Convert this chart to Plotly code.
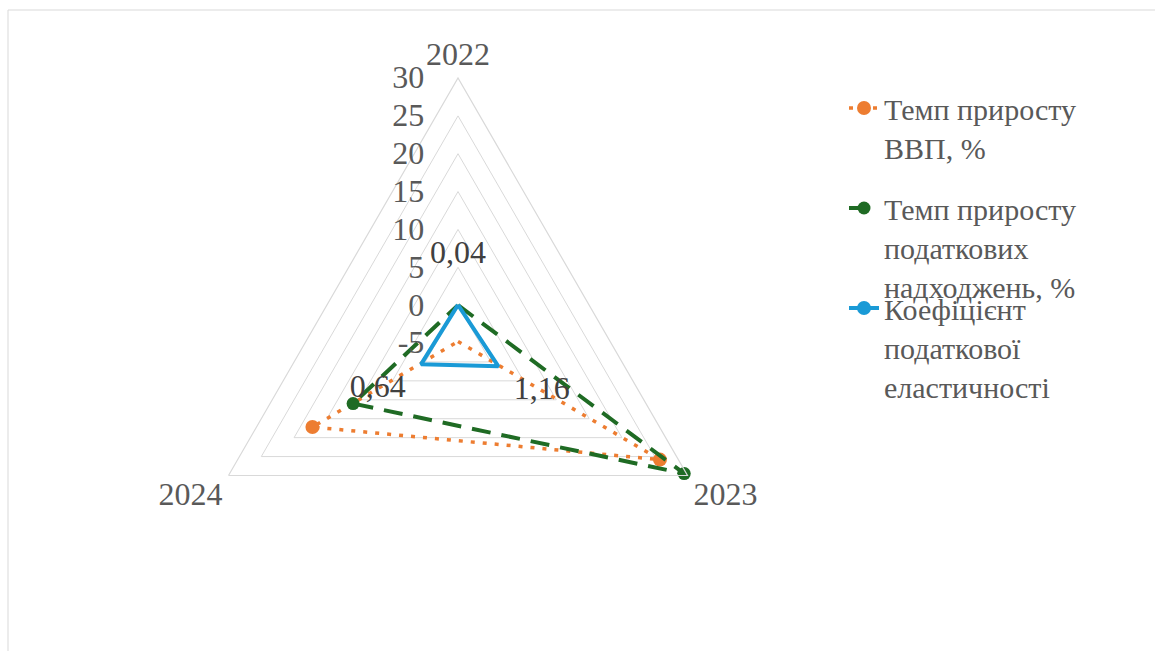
import plotly.graph_objects as go

categories = ["2022", "2023", "2024"]
gdp_growth = [-4.8, 25.8, 17.2]
tax_growth = [0.0, 29.5, 11.0]
elasticity = [0.04, 1.16, 0.64]
elasticity_labels = ["0,04", "1,16", "0,64"]
radial_ticks = [-5, 0, 5, 10, 15, 20, 25, 30]
radial_tick_labels = ["-5", "0", "5", "10", "15", "20", "25", "30"]

names = [
    "Темп приросту<br>ВВП, %",
    "Темп приросту<br>податкових<br>надходжень, %",
    "Коефіцієнт<br>податкової<br>еластичності",
]

W, H = 1155, 651
FONT = "Liberation Serif"
TXT = "#595959"
LABEL_OFFSET = 6.6


def closed(v):
    return list(v) + [v[0]]


theta_c = closed(categories)

fig = go.Figure()
fig.add_trace(go.Scatterpolar(
    r=closed(gdp_growth), theta=theta_c, name=names[0], mode="lines+markers",
    line=dict(color="#ED7D31", width=3.5, dash="4px,8px"),
    marker=dict(size=14, color="#ED7D31"), legend="legend",
))
fig.add_trace(go.Scatterpolar(
    r=closed(tax_growth), theta=theta_c, name=names[1], mode="lines+markers",
    line=dict(color="#1F6B24", width=4, dash="19px,11px"),
    marker=dict(size=13, color="#1F6B24"), legend="legend2",
))
fig.add_trace(go.Scatterpolar(
    r=closed(elasticity), theta=theta_c, name=names[2], mode="lines+markers",
    line=dict(color="#1A9AD6", width=4),
    marker=dict(size=14, color="#1A9AD6"), legend="legend3",
))
# data labels for elasticity series
fig.add_trace(go.Scatterpolar(
    r=[v + LABEL_OFFSET for v in elasticity], theta=categories, mode="text",
    text=elasticity_labels, textposition="middle center",
    textfont=dict(family=FONT, size=32, color="#404040"),
    showlegend=False, hoverinfo="skip",
))

cx, cy, rad = 458, 343, 265
fig.update_layout(
    width=W, height=H,
    margin=dict(l=0, r=0, t=0, b=0),
    paper_bgcolor="white",
    font=dict(family=FONT, color=TXT, size=30),
    polar=dict(
        domain=dict(x=[(cx - rad) / W, (cx + rad) / W],
                    y=[1 - (cy + rad) / H, 1 - (cy - rad) / H]),
        bgcolor="white",
        gridshape="linear",
        radialaxis=dict(
            range=[-5, 30], tickvals=radial_ticks, ticktext=radial_tick_labels,
            angle=90, tickangle=90,
            showline=False, gridcolor="#D9D9D9", gridwidth=1.2,
            ticks="outside", ticklen=22, tickcolor="rgba(0,0,0,0)",
            tickfont=dict(family=FONT, size=32, color=TXT),
            side="counterclockwise",
        ),
        angularaxis=dict(
            rotation=90, direction="clockwise", showgrid=False,
            showline=True, linecolor="#D9D9D9", linewidth=1.2,
            ticks="", tickfont=dict(family=FONT, size=32, color=TXT),
        ),
    ),
    shapes=[dict(type="rect", xref="paper", yref="paper",
                 x0=8 / W, x1=1.02, y0=-0.02, y1=1 - 10 / H,
                 line=dict(color="#D9D9D9", width=1))],
)

leg_common = dict(xanchor="left", yanchor="top", valign="top",
                  bgcolor="rgba(0,0,0,0)",
                  font=dict(family=FONT, size=30, color=TXT))
lx = (884 - 40) / W
fig.update_layout(
    legend=dict(x=lx, y=1 - 82 / H, **leg_common),
    legend2=dict(x=lx, y=1 - 182 / H, **leg_common),
    legend3=dict(x=lx, y=1 - 282 / H, **leg_common),
)

fig.write_html("out.html", config={"displayModeBar": False},
               post_script="document.body.style.margin='0px';")
